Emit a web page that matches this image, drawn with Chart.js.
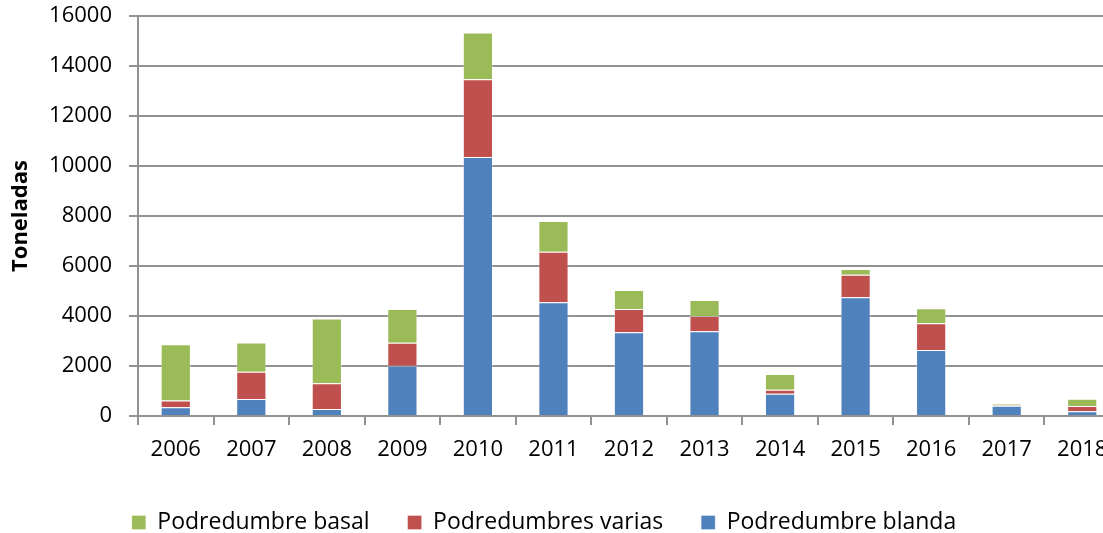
<!DOCTYPE html>
<html>
<head>
<meta charset="utf-8">
<script src="https://cdn.jsdelivr.net/npm/chart.js@4/dist/chart.umd.min.js"></script>
<style>
  html, body { margin: 0; padding: 0; background: #fff; overflow: hidden; }
  #wrap { width: 1120px; height: 533px; }
</style>
</head>
<body>
<div id="wrap"><canvas id="chart" width="1120" height="533"></canvas></div>
<script>
// Data (toneladas)
const years = ['2006', '2007', '2008', '2009', '2010', '2011', '2012', '2013', '2014', '2015', '2016', '2017', '2018'];
const blanda = [350, 680, 280, 2010, 10360, 4550, 3350, 3390, 890, 4750, 2640, 410, 190];
const varias = [270, 1090, 1030, 920, 3110, 2020, 930, 610, 160, 900, 1070, 30, 210];
const basal = [2250, 1170, 2590, 1350, 1870, 1230, 760, 640, 630, 230, 600, 40, 290];

const FONT = '"Open Sans", Lato, sans-serif';
const GRID = '#929292';
const AXIS_Y = 416; // where the zero line sits
const TOP_Y = 16;   // where the 16000 line sits

// Excel doesn't center the legend on the canvas, nudge it
let legendDx = -16, legendDy = 11;
const legendShift = {
    id: 'legendShift',
    afterInit(chart) {
        const lg = chart.legend;
        const orig = lg.draw.bind(lg);
        lg.draw = function (area) {
            chart.ctx.save();
            chart.ctx.translate(legendDx, legendDy);
            orig(area);
            chart.ctx.restore();
        };
    }
};

const ctx = document.getElementById('chart').getContext('2d');
new Chart(ctx, {
    type: 'bar',
    data: {
        labels: years,
        datasets: [
            { label: 'Podredumbre blanda', data: blanda, backgroundColor: '#4F81BD', borderColor: 'rgba(255,255,255,0.3)', borderWidth: 1 },
            { label: 'Podredumbres varias', data: varias, backgroundColor: '#C0504D', borderColor: 'rgba(255,255,255,0.3)', borderWidth: 1 },
            { label: 'Podredumbre basal', data: basal, backgroundColor: '#9BBB59', borderColor: 'rgba(255,255,255,0.3)', borderWidth: 1 }
        ]
    },
    options: {
        responsive: false,
        animation: false,
        layout: { padding: 0 },
        datasets: { bar: { categoryPercentage: 1, barPercentage: 0.4 } },
        scales: {
            x: {
                stacked: true,
                grid: { offset: true, drawOnChartArea: false, color: GRID, lineWidth: 2, tickLength: 9 },
                border: { color: GRID, width: 2 },
                ticks: { color: '#000', font: { family: FONT, size: 22 }, padding: 12, maxRotation: 0 },
                afterFit: s => { s.height = 533 - AXIS_Y - s.chart.legend.height; }
            },
            y: {
                stacked: true,
                min: 0,
                max: 16000,
                ticks: { stepSize: 2000, color: '#000', font: { family: FONT, size: 22 }, padding: 17, callback: v => String(v) },
                grid: { color: GRID, lineWidth: 2, tickLength: 9 },
                border: { color: GRID, width: 2 },
                title: { display: true, text: 'Toneladas', color: '#000', font: { family: FONT, size: 22, weight: 'bold' }, padding: { top: 8, bottom: 0 } },
                afterFit: s => { s.width = 138; s.paddingTop = TOP_Y; }
            }
        },
        plugins: {
            legend: {
                position: 'bottom',
                reverse: true,
                labels: { boxWidth: 14, boxHeight: 14, color: '#000', font: { family: FONT, size: 23 }, padding: 38 }
            },
            tooltip: { enabled: false }
        }
    },
    plugins: [legendShift]
});
</script>
</body>
</html>
